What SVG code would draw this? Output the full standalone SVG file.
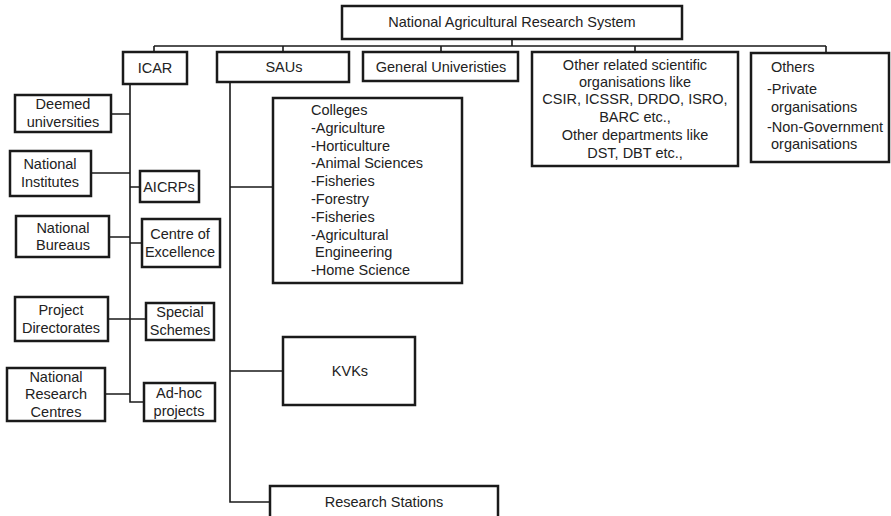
<svg xmlns="http://www.w3.org/2000/svg" width="891" height="516" viewBox="0 0 891 516">
<style>
.box{fill:#fff;stroke:#1a1a1a;stroke-width:2.5}
.ln{fill:none;stroke:#1a1a1a;stroke-width:1.6}
text{font-family:"Liberation Sans",Arial,sans-serif;font-size:14.5px;fill:#222}
.c{text-anchor:middle}
</style>
<rect width="891" height="516" fill="#fff"/>
<g id="connectors" class="ln">
<path d="M512 39V46M154 46H826M154 46V52M283 46V52M441 46V52M635 46V52M826 46V52"/>
<path d="M130 84V402H144"/>
<path d="M111 114H130M91 173H130M109 237H130M108 319H146M105 394H130M130 187H140M130 243H142"/>
<path d="M230 82V502H270M230 187H273M230 371H283"/>
</g>
<g id="nars"><rect class="box" x="342" y="6" width="340" height="33"/><text class="c" x="512" y="27">National Agricultural Research System</text></g>
<g id="icar"><rect class="box" x="123" y="52" width="64" height="32"/><text class="c" x="155" y="73">ICAR</text></g>
<g id="saus"><rect class="box" x="217" y="52" width="132" height="30"/><text class="c" x="284" y="72">SAUs</text></g>
<g id="general"><rect class="box" x="363" y="52" width="155" height="29"/><text class="c" x="441" y="72">General Univeristies</text></g>
<g id="other-related"><rect class="box" x="532" y="52" width="206" height="114"/>
<text class="c" x="635" y="70">Other related scientific</text>
<text class="c" x="635" y="87">organisations like</text>
<text class="c" x="635" y="104">CSIR, ICSSR, DRDO, ISRO,</text>
<text class="c" x="635" y="122">BARC etc.,</text>
<text class="c" x="635" y="140">Other departments like</text>
<text class="c" x="635" y="158">DST, DBT etc.,</text></g>
<g id="others"><rect class="box" x="751" y="53" width="138" height="109"/>
<text x="771" y="72">Others</text>
<text x="767" y="94">-Private</text>
<text x="771" y="112">organisations</text>
<text x="767" y="132">-Non-Government</text>
<text x="771" y="149">organisations</text></g>
<g id="deemed"><rect class="box" x="15" y="95" width="96" height="37"/><text class="c" x="63" y="109">Deemed</text><text class="c" x="63" y="127">universities</text></g>
<g id="institutes"><rect class="box" x="10" y="151" width="81" height="45"/><text class="c" x="50" y="169">National</text><text class="c" x="50" y="187">Institutes</text></g>
<g id="bureaus"><rect class="box" x="16" y="216" width="93" height="41"/><text class="c" x="63" y="233">National</text><text class="c" x="63" y="250">Bureaus</text></g>
<g id="directorates"><rect class="box" x="15" y="297" width="93" height="44"/><text class="c" x="61" y="315">Project</text><text class="c" x="61" y="333">Directorates</text></g>
<g id="nrc"><rect class="box" x="7" y="368" width="98" height="53"/><text class="c" x="56" y="382">National</text><text class="c" x="56" y="399">Research</text><text class="c" x="56" y="417">Centres</text></g>
<g id="aicrps"><rect class="box" x="140" y="171" width="59" height="31"/><text class="c" x="169" y="192">AICRPs</text></g>
<g id="excellence"><rect class="box" x="142" y="219" width="78" height="48"/><text class="c" x="180" y="239">Centre of</text><text class="c" x="180" y="257">Excellence</text></g>
<g id="schemes"><rect class="box" x="146" y="303" width="68" height="37"/><text class="c" x="180" y="317">Special</text><text class="c" x="180" y="335">Schemes</text></g>
<g id="adhoc"><rect class="box" x="144" y="383" width="71" height="38"/><text class="c" x="179" y="398">Ad-hoc</text><text class="c" x="179" y="416">projects</text></g>
<g id="colleges"><rect class="box" x="273" y="98" width="189" height="185"/>
<text x="311" y="115">Colleges</text>
<text x="311" y="133">-Agriculture</text>
<text x="311" y="151">-Horticulture</text>
<text x="311" y="168">-Animal Sciences</text>
<text x="311" y="186">-Fisheries</text>
<text x="311" y="204">-Forestry</text>
<text x="311" y="222">-Fisheries</text>
<text x="311" y="240">-Agricultural</text>
<text x="315" y="257">Engineering</text>
<text x="311" y="275">-Home Science</text></g>
<g id="kvks"><rect class="box" x="283" y="337" width="132" height="68"/><text class="c" x="350" y="376">KVKs</text></g>
<g id="stations"><rect class="box" x="270" y="486" width="228" height="40"/><text class="c" x="384" y="507">Research Stations</text></g>
</svg>
